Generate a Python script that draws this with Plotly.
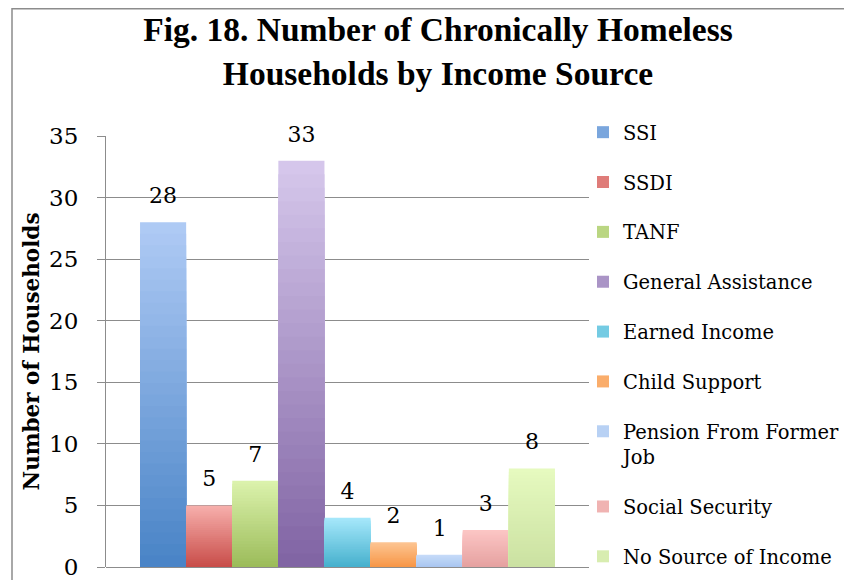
import plotly.graph_objects as go

# ---------------- data ----------------
categories = ["SSI", "SSDI", "TANF", "General Assistance", "Earned Income",
              "Child Support", "Pension From Former<br>Job", "Social Security",
              "No Source of Income"]
values = [28, 5, 7, 33, 4, 2, 1, 3, 8]
y_ticks = [0, 5, 10, 15, 20, 25, 30, 35]
group_label = ["Income Source"]

# gradient colours (top, bottom) per series
top_colors = ["#b0cbf5", "#f7b0ad", "#dcf3ad", "#d6c8ec", "#a7e8fb",
              "#fdc593", "#c7dcf9", "#fcc6c5", "#e6fac0"]
bottom_colors = ["#4883c6", "#c84c48", "#9bbb59", "#8063a3", "#45b0cd",
                 "#f79646", "#a9c6f0", "#e5a1a0", "#cbe1a1"]

GRID = "#8c8c8c"
N_SLICES = 30
LABEL_PAD = 0.9

# the page body adds an 8px margin; lay out in reference pixels minus that offset
OFF = 8
W, H = 852 - OFF, 580 - OFF
L, R, T, B = 98, 263, 128, 13
pw, ph = W - L - R, H - T - B


def hex2rgb(h):
    h = h.lstrip("#")
    return tuple(int(h[i:i + 2], 16) for i in (0, 2, 4))


def mix(c_top, c_bot, t):
    a, b = hex2rgb(c_top), hex2rgb(c_bot)
    r = [round(b[j] + (a[j] - b[j]) * t) for j in range(3)]
    return "rgb(%d,%d,%d)" % tuple(r)


def px_x(p):  # reference pixel -> paper x
    return (p - OFF - L) / pw


def px_y(p):  # reference pixel -> paper y
    return (H - B - (p - OFF)) / ph


fig = go.Figure()
for i, (name, v) in enumerate(zip(categories, values)):
    for k in range(N_SLICES):
        frac = (N_SLICES - k) / N_SLICES
        t = (N_SLICES - k - 0.5) / N_SLICES
        fig.add_trace(go.Bar(
            x=group_label, y=[v * frac], name=name, offsetgroup=name,
            legendgroup=name, showlegend=(k == N_SLICES // 2),
            marker=dict(color=mix(top_colors[i], bottom_colors[i], t), line=dict(width=0)),
            hoverinfo="skip",
        ))
    # value label
    fig.add_trace(go.Bar(
        x=group_label, y=[LABEL_PAD], base=[v], name=name, offsetgroup=name,
        legendgroup=name, showlegend=False,
        marker=dict(color="rgba(0,0,0,0)", line=dict(width=0)),
        text=[str(v)], textposition="outside", cliponaxis=False,
        textfont=dict(family="DejaVu Serif", size=22, color="#000000"),
        hoverinfo="skip",
    ))

fig.update_layout(
    width=W, height=H,
    margin=dict(l=L, r=R, t=T, b=B, autoexpand=False),
    paper_bgcolor="white", plot_bgcolor="white",
    barmode="group", bargap=0.141, bargroupgap=0,
    title=dict(
        text="Fig. 18. Number of Chronically Homeless<br>Households by Income Source",
        font=dict(family="Liberation Serif", size=33.5, color="#000000", weight="bold"),
        x=430 / W, xanchor="center", xref="container",
        y=1 - 33 / H, yanchor="middle", yref="container",
    ),
    xaxis=dict(showticklabels=False, showgrid=False, zeroline=False,
               showline=False, ticks=""),
    yaxis=dict(
        range=[0, 35], tickvals=y_ticks, showgrid=True, gridcolor=GRID, gridwidth=1,
        zeroline=True, zerolinecolor=GRID, zerolinewidth=1,
        showline=True, linecolor=GRID, linewidth=1,
        ticks="outside", ticklen=8, tickcolor=GRID, tickwidth=1,
        ticklabelstandoff=14, ticklabeloverflow="allow",
        tickfont=dict(family="DejaVu Serif", size=23, color="#000000"),
        title=dict(text="Number of Households", standoff=3,
                   font=dict(family="DejaVu Serif", size=21.5, color="#000000", weight="bold")),
    ),
    legend=dict(
        xref="container", yref="container", x=575 / W, y=1 - 105 / H,
        xanchor="left", yanchor="top", maxheight=560,
        font=dict(family="DejaVu Serif", size=19.5, color="#000000"),
        tracegroupgap=21.5, valign="top", bgcolor="rgba(0,0,0,0)",
    ),
    showlegend=True,
    shapes=[dict(type="rect", xref="paper", yref="paper",
                 x0=px_x(12), x1=px_x(900), y0=px_y(620), y1=px_y(8.75),
                 line=dict(color="#8c8c8c", width=1.5), fillcolor="rgba(0,0,0,0)",
                 layer="above")],
)

fig.write_html("out.html")
